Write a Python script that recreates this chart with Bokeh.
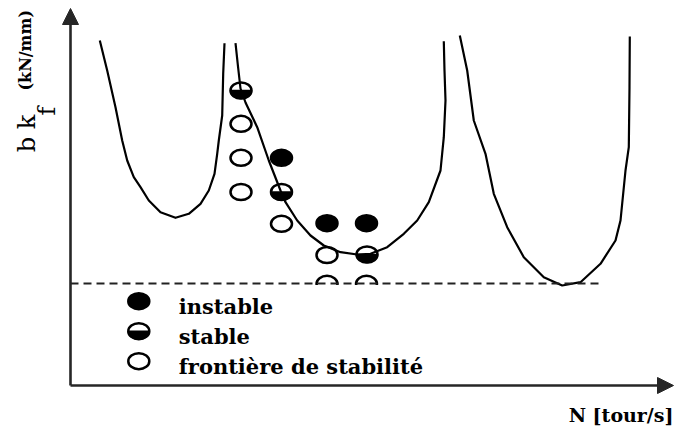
import numpy as np
from bokeh.plotting import figure
from bokeh.models import Range1d, Arrow, NormalHead, Label
from bokeh.core.properties import value
from bokeh.embed import file_html
from bokeh.resources import INLINE

# Stability lobes: spindle speed N vs limiting depth b*kf (arbitrary plot units)
lobe1_n = [29.3, 36.7, 45, 51.7, 56.7, 63.3, 70, 78.3, 90, 105, 118.3, 130, 138.3, 144,
           146.7, 148.3, 151.7, 152.7, 154]
lobe1_b = [345, 315, 278.3, 245, 225, 208.3, 198.3, 185, 173.3, 167.7, 171.7, 181.7, 195,
           211.7, 231.7, 245, 270, 311.7, 342.3]

lobe2_n = [165, 167.5, 170, 175, 186.7, 198.3, 210, 215, 226.7, 240, 253.3, 270, 286.7, 300,
           316.7, 333.3, 346.7, 358.3, 370, 373.3, 375, 374, 373.3]
lobe2_b = [342.3, 319, 297, 283, 258.3, 225, 195, 183.3, 165, 150, 140, 133.3, 131, 131.7,
           138.3, 151.7, 165, 183.3, 215, 248.3, 285, 315, 344.3]

lobe3_n = [389.3, 396.7, 403.3, 415, 423.3, 436.7, 453.3, 473.3, 491.7, 510, 530, 545, 550,
           555, 558.3, 559, 559.3]
lobe3_b = [350, 315, 265, 231.7, 191.7, 158.3, 128.3, 108.3, 100, 103.3, 121.7, 145, 165,
           215, 238.3, 298.3, 349]

# Absolute stability limit
limit_b = 102
limit_n = [0, 533]

# Cutting tests
instable_n = [211, 256.5, 296]
instable_b = [227.7, 162.3, 162.3]
stable_n = [170.5, 211, 296.5]
stable_b = [295, 193.5, 131]
frontier_n = [170.5, 170.5, 170.5, 211, 256.5, 256.5, 296]
frontier_b = [261.7, 227.7, 193.5, 161.7, 130.5, 101.7, 101.7]

legend_labels = ["instable", "stable", "frontière de stabilité"]

INK = "black"
AXIS = "#262626"
MW, MH = 21, 16  # marker ellipse size (data units)

p = figure(width=680, height=428, x_range=Range1d(-70, 610), y_range=Range1d(-43, 385),
           toolbar_location=None, output_backend="svg", min_border=0,
           x_axis_type=None, y_axis_type=None)
p.grid.visible = False
p.outline_line_color = None
p.background_fill_color = "white"
p.border_fill_color = "white"


def lower_halves(xc, yc, w=MW, h=MH):
    t = np.linspace(np.pi, 2 * np.pi, 25)
    xs = [cx + 0.5 * w * np.cos(t) for cx in xc]
    ys = [cy + 0.5 * h * np.sin(t) for cy in yc]
    return xs, ys


def draw_markers(kind, xc, yc):
    if kind == "instable":
        p.ellipse(x=xc, y=yc, width=MW, height=MH, fill_color=INK, line_color=INK, line_width=2.5)
    elif kind == "stable":
        p.ellipse(x=xc, y=yc, width=MW, height=MH, fill_color="white", line_color=INK, line_width=2.5)
        xs, ys = lower_halves(xc, yc)
        p.patches(xs=xs, ys=ys, fill_color=INK, line_color=INK, line_width=1.5)
    else:
        p.ellipse(x=xc, y=yc, width=MW, height=MH, fill_color="white", line_color=INK, line_width=2.5)


draw_markers("frontier", frontier_n, frontier_b)
draw_markers("stable", stable_n, stable_b)
draw_markers("instable", instable_n, instable_b)

for xs, ys in [(lobe1_n, lobe1_b), (lobe2_n, lobe2_b), (lobe3_n, lobe3_b)]:
    p.line(xs, ys, line_color=INK, line_width=2.2, line_join="round")

p.line(limit_n, [limit_b, limit_b], line_color="#222222", line_width=2, line_dash="8 5")

# white legend panel, sitting just under the stability limit
p.quad(left=50, right=370, top=limit_b - 1.5, bottom=7, fill_color="white", line_color=None)

leg_x, leg_y0, leg_dy = 68.3, 84.3, 30
leg_ys = [leg_y0 - i * leg_dy for i in range(len(legend_labels))]
for kind, ly in zip(["instable", "stable", "frontier"], leg_ys):
    draw_markers(kind, [leg_x], [ly])
p.text(x=[leg_x + 40] * len(legend_labels), y=[ly - 5.5 for ly in leg_ys], text=legend_labels,
       text_font=value("DejaVu Serif"), text_font_style="bold", text_font_size="21px",
       text_color=INK, text_baseline="alphabetic", text_align="left")

# axes with arrow heads
p.add_layout(Arrow(end=NormalHead(size=16, fill_color=AXIS, line_color=AXIS),
                   x_start=0, y_start=0, x_end=0, y_end=377, line_color=AXIS, line_width=2.6))
p.add_layout(Arrow(end=NormalHead(size=16, fill_color=AXIS, line_color=AXIS),
                   x_start=0, y_start=0, x_end=603, y_end=0, line_color=AXIS, line_width=2.6))

# axis titles
p.add_layout(Label(x=603, y=-29, text="N [tour/s]", text_font="DejaVu Serif",
                   text_font_style="bold", text_font_size="19px", text_color=INK,
                   text_align="right", text_baseline="alphabetic"))
p.add_layout(Label(x=-43.3, y=233.3, text="b k", angle=np.pi / 2, text_font="DejaVu Serif",
                   text_font_size="24px", text_color=INK, text_align="left",
                   text_baseline="alphabetic"))
p.add_layout(Label(x=-23.3, y=270, text="f", angle=np.pi / 2, text_font="DejaVu Serif",
                   text_font_size="24px", text_color=INK, text_align="left",
                   text_baseline="alphabetic"))
p.add_layout(Label(x=-45, y=295, text="(kN/mm)", angle=np.pi / 2, text_font="DejaVu Serif",
                   text_font_style="bold", text_font_size="16px", text_color=INK,
                   text_align="left", text_baseline="alphabetic"))

open("out.html", "w").write(file_html(p, INLINE))
